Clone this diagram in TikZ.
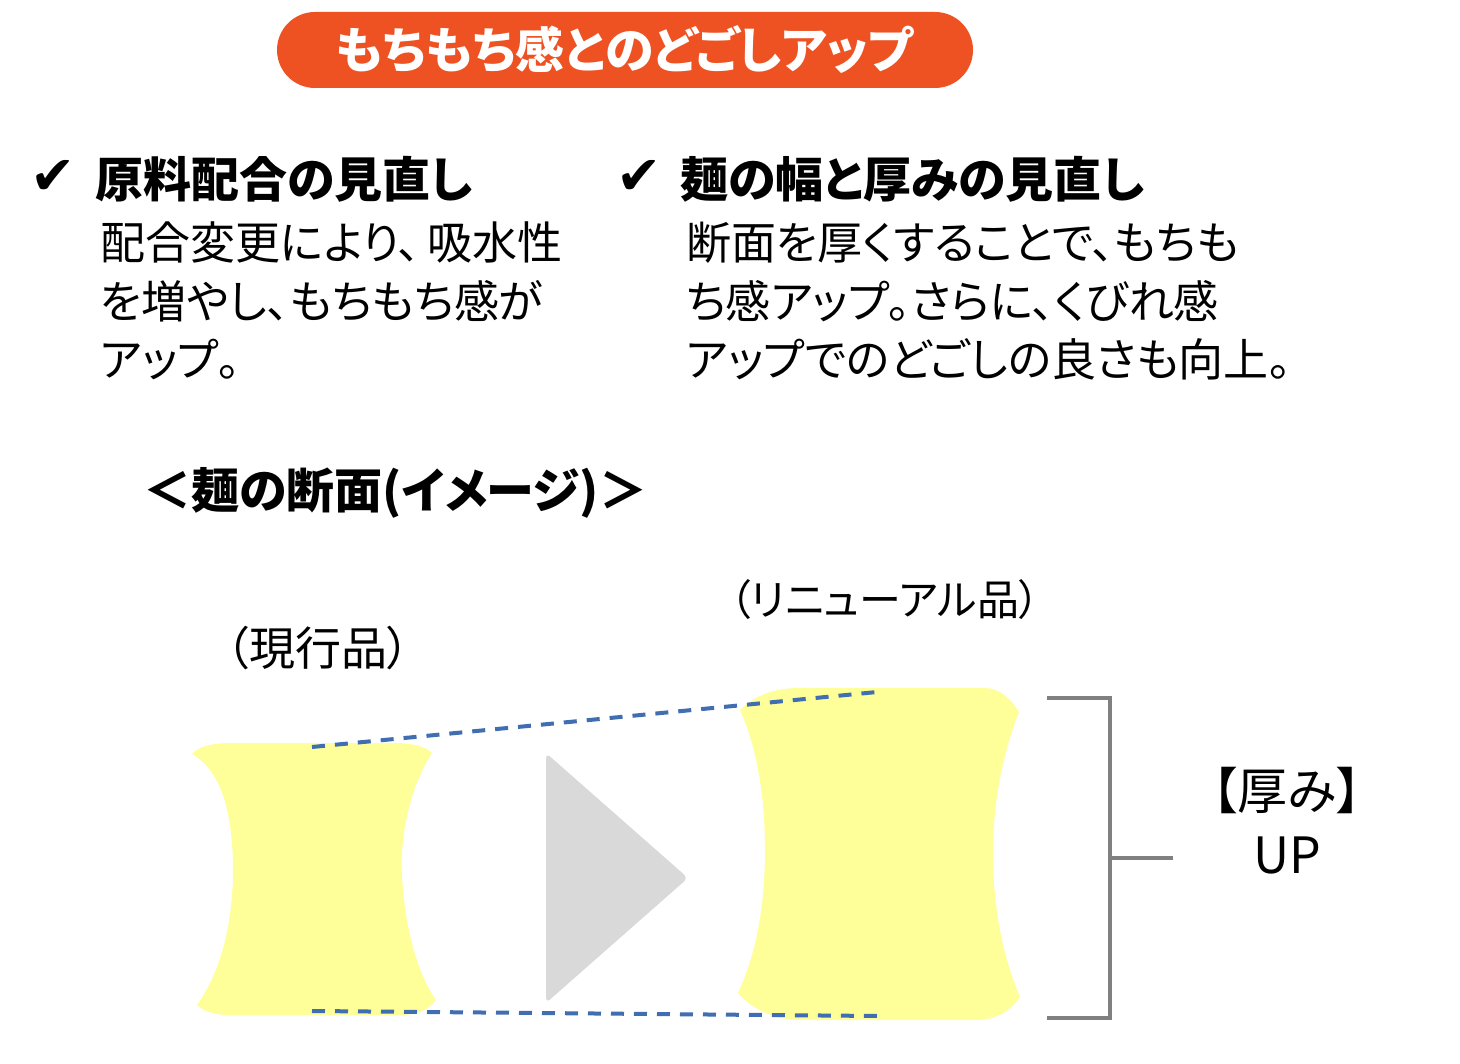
\documentclass[tikz,border=0pt]{standalone}
\usepackage{fontspec}
\setmainfont{Noto Sans CJK JP}[RawFeature=+palt]
\newfontfamily\symfont{DejaVu Sans}

\definecolor{titleorange}{RGB}{238,82,34}
\definecolor{noodleyellow}{RGB}{255,255,153}
\definecolor{arrowgray}{RGB}{217,217,217}
\definecolor{dashblue}{RGB}{64,110,176}
\definecolor{bracketgray}{RGB}{128,128,128}

\begin{document}
\begin{tikzpicture}[x=1pt, y=-1pt]
    % --- CONFIGURAZIONE ---
    \tikzset{
        title_box/.style={fill=titleorange, rounded corners=38pt, minimum width=696pt, minimum height=76pt,
            text=white, font=\fontsize{49}{52}\selectfont\bfseries},
        check_mark/.style={inner sep=0pt, font=\symfont\fontsize{54}{58}\selectfont},
        head_text/.style={inner sep=0pt, anchor=base west, font=\fontsize{48}{52}\selectfont\bfseries},
        body_text/.style={inner sep=0pt, anchor=base west, font=\fontsize{45}{50}\selectfont},
        label_text/.style={inner sep=0pt, anchor=base, font=\fontsize{44}{48}\selectfont},
        big_text/.style={inner sep=0pt, anchor=base, font=\fontsize{50}{54}\selectfont},
        noodle/.style={fill=noodleyellow},
        dash_line/.style={dashblue, line width=4pt, dash pattern=on 13pt off 10pt},
        bracket_line/.style={bracketgray, line width=3.5pt}
    }

    % Passo fra le righe
    \def\LH{58.5}

    \fill[white] (0,0) rectangle (1460,1064);
    \useasboundingbox (0,0) rectangle (1460,1064);

    % ===================================================
    % 1. TITOLO
    % ===================================================
    \node[title_box] (title) at (625,50) {もちもち感とのどごしアップ};

    % ===================================================
    % 2. DUE COLONNE DI TESTO
    % ===================================================
    \node[check_mark] (c1) at (53,177) {✔};
    \node[head_text] (h1) at (95,198) {原料配合の見直し};
    \foreach \txt [count=\k] in {配合変更により、\,吸水性, を増やし、もちもち感が, アップ。} {
        \node[body_text] (a\k) at (100,{260+(\k-1)*\LH}) {\txt};
    }

    \node[check_mark] (c2) at (639,177) {✔};
    \node[head_text] (h2) at (680,198) {麺の幅と厚みの見直し};
    \foreach \txt [count=\k] in {断面を厚くすることで、もちも, ち感アップ。さらに、くびれ感, アップでのどごしの良さも向上。} {
        \node[body_text] (b\k) at (686,{260+(\k-1)*\LH}) {\txt};
    }

    % ===================================================
    % 3. SEZIONE DEL MIE
    % ===================================================
    \node[head_text] (sub) at (143,508) {＜麺の断面(イメージ)＞};
    \node[label_text, font=\fontsize{46}{50}\selectfont] (cur) at (318,665) {（現行品）};
    \node[label_text, font=\fontsize{42}{46}\selectfont] (new) at (885,615) {（リニューアル品）};

    % Sezione attuale
    \fill[noodle] (192,754) .. controls (200,745) and (215,743) .. (235,743) -- (395,743)
        .. controls (415,743) and (428,748) .. (432,753)
        .. controls (408,790) and (400,840) .. (402,875)
        .. controls (404,920) and (415,970) .. (436,1000)
        .. controls (428,1010) and (418,1015) .. (400,1015) -- (230,1015)
        .. controls (212,1015) and (202,1010) .. (197,1005)
        .. controls (222,970) and (233,920) .. (233,870)
        .. controls (233,810) and (220,770) .. (192,754) -- cycle;

    % Sezione nuova
    \fill[noodle] (740,710) .. controls (755,695) and (775,688) .. (800,688) -- (985,688)
        .. controls (1000,688) and (1012,700) .. (1019,712)
        .. controls (1000,760) and (993,810) .. (993,853)
        .. controls (993,900) and (1000,950) .. (1020,997)
        .. controls (1010,1012) and (995,1020) .. (975,1020) -- (800,1020)
        .. controls (770,1020) and (748,1005) .. (738,993)
        .. controls (758,950) and (765,900) .. (765,850)
        .. controls (765,800) and (758,750) .. (740,710) -- cycle;

    % Freccia
    \fill[arrowgray, rounded corners=5pt] (546,753) -- (688,878) -- (546,1003) -- cycle;

    % Linee tratteggiate
    \coordinate (ct) at (312,747);
    \coordinate (cb) at (312,1011);
    \coordinate (nt) at (877,692);
    \coordinate (nb) at (878,1016);
    \draw[dash_line] (ct) -- (nt);
    \draw[dash_line] (cb) -- (nb);

    % ===================================================
    % PARENTESI E SCRITTA
    % ===================================================
    \coordinate (kt) at (1047,698);
    \coordinate (kb) at (1047,1018);
    \coordinate (km) at (1110,858);
    \coordinate (kx) at (1173,858);
    \draw[bracket_line] (kt) -- (kt -| km) -- (kb -| km) -- (kb);
    \draw[bracket_line] (km) -- (kx);

    \node[big_text] (thick) at (1287,809) {【厚み】};
    \node[big_text] (up) at (1287,873) {UP};

\end{tikzpicture}
\end{document}
